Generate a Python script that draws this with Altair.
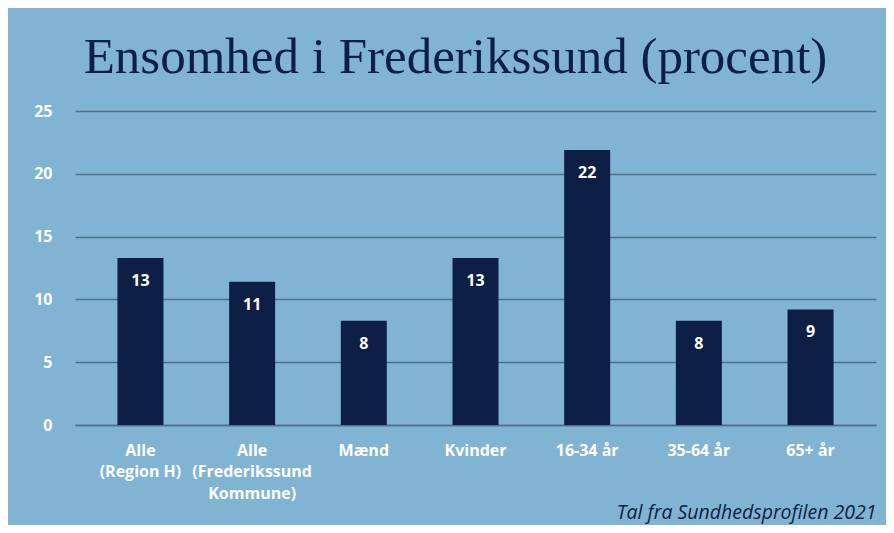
import altair as alt
import pandas as pd

categories = ["Alle\n(Region H)", "Alle\n(Frederikssund\nKommune)", "Mænd", "Kvinder",
              "16-34 år", "35-64 år", "65+ år"]
values = [13.3, 11.4, 8.3, 13.3, 21.9, 8.3, 9.2]
value_labels = ["13", "11", "8", "13", "22", "8", "9"]
y_ticks = [0, 5, 10, 15, 20, 25]

df = pd.DataFrame({"cat": categories, "val": values, "lab": value_labels})

BG = "#80b4d2"
NAVY = "#0d1f44"
GRID = "#4f6f88"
FONT = "Open Sans"

x_enc = alt.X(
    "cat:N", sort=categories,
    scale=alt.Scale(paddingInner=0.588, paddingOuter=0.38),
    axis=alt.Axis(
        title="Tal fra Sundhedsprofilen 2021",
        titleAnchor="end", titleFont=FONT, titleFontStyle="italic",
        titleFontWeight="normal", titleFontSize=19.5, titleColor=NAVY,
        titleBaseline="alphabetic", titleY=93, titleAlign="right", titleX=801,
        labelExpr="split(datum.label, '\\n')", labelAngle=0,
        labelFont=FONT, labelFontWeight="bold", labelFontSize=16,
        labelColor="white", labelLineHeight=21.5, labelPadding=17,
        labelBaseline="top",
        ticks=False, domain=True, domainColor=GRID, domainWidth=1.5,
        grid=False,
    ),
)

y_enc = alt.Y(
    "val:Q", scale=alt.Scale(domain=[0, 25], nice=False),
    axis=alt.Axis(
        title=None, values=y_ticks, ticks=False, domain=False,
        labelFont=FONT, labelFontWeight="bold", labelFontSize=16,
        labelColor="white", labelPadding=23,
        grid=True, gridColor=GRID, gridWidth=1.5,
    ),
)

bars = alt.Chart(df).mark_bar(color=NAVY).encode(x=x_enc, y=y_enc)

texts = alt.Chart(df).mark_text(
    color="white", font=FONT, fontWeight="bold", fontSize=16,
    baseline="alphabetic", dy=28,
).encode(x=alt.X("cat:N", sort=categories), y="val:Q", text="lab:N")

chart = (bars + texts).properties(
    width=801, height=314,
    background=BG,
    padding={"left": 67, "top": 103, "right": 10, "bottom": 100},
    autosize=alt.AutoSizeParams(type="none"),
    title=alt.TitleParams(
        "Ensomhed i Frederikssund (procent)",
        font="Liberation Serif", fontSize=51, fontWeight="normal",
        color=NAVY, anchor="middle", dx=-20, offset=19,
    ),
).configure_view(stroke=None)

chart.save("out.html", embed_options={"renderer": "svg", "actions": False})
